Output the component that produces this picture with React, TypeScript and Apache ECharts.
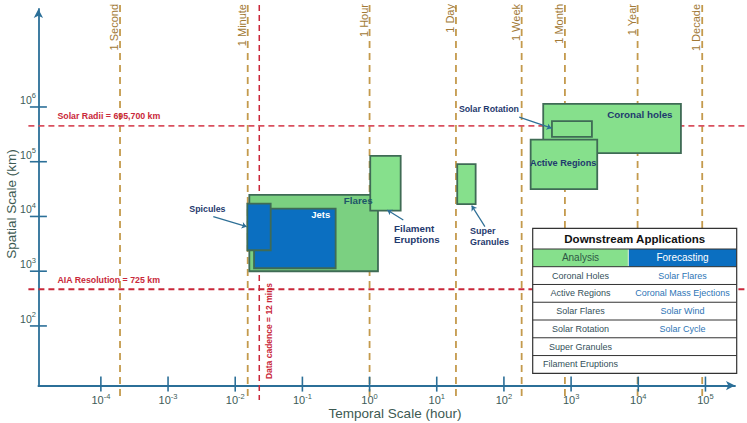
import React, { useEffect, useRef } from 'react';
import * as echarts from 'echarts';

// ---------- axis extents (log10 units: hours on x, km on y) ----------
const X_MIN = -4.93;
const X_MAX = 5.44;
const Y_MIN = 0.91;
const Y_MAX = 7.79;

const xTickExponents = [-4, -3, -2, -1, 0, 1, 2, 3, 4, 5];
const yTickExponents = [2, 3, 4, 5, 6];

// ---------- time reference lines (log10 hours, as drawn) ----------
const timeMarkerLabels = ['1 Second', '1 Minute', '1 Hour', '1 Day', '1 Week', '1 Month', '1 Year', '1 Decade'];
const timeMarkerExponents = [-3.715, -1.814, 0.0, 1.286, 2.264, 2.908, 3.99, 4.952];

const cadenceLabel = 'Data cadence = 12 mins';
const cadenceExponent = -1.642;

// ---------- spatial reference lines (log10 km, as drawn) ----------
const scaleLineLabels = ['Solar Radii = 695,700 km', 'AIA Resolution = 725 km'];
const scaleLineExponents = [5.655, 2.67];

// ---------- phenomena boxes (log10 hours / log10 km) ----------
const phenomena = ['Flares', 'Jets', 'Spicules', 'Filament Eruptions', 'Super Granules', 'Coronal holes', 'Solar Rotation', 'Active Regions'];
const timeStartExp = [-1.79, -1.72, -1.82, 0.01, 1.305, 2.585, 2.715, 2.398];
const timeEndExp = [0.125, -0.505, -1.472, 0.463, 1.579, 4.635, 3.31, 3.389];
const sizeLowExp = [2.999, 3.054, 3.383, 4.107, 4.224, 5.156, 5.454, 4.498];
const sizeHighExp = [4.394, 4.143, 4.235, 5.107, 4.955, 6.057, 5.741, 5.404];

// ---------- annotation labels (anchor in data units) ----------
const annotationTexts = ['Flares', 'Jets', 'Coronal holes', 'Active Regions', 'Spicules', 'Filament\nEruptions', 'Super\nGranules', 'Solar Rotation'];
const annotationTimeExp = [-0.168, -0.728, 4.024, 2.883, -2.414, 0.363, 1.494, 1.777];
const annotationSizeExp = [4.284, 4.034, 5.855, 4.973, 4.138, 3.68, 3.633, 5.96];

// ---------- annotation arrows ----------
const arrowFromTime = [-2.326, 0.502, 1.717, 2.228];
const arrowFromSize = [3.997, 3.937, 3.814, 5.814];
const arrowToTime = [-1.829, 0.263, 1.52, 2.71];
const arrowToSize = [3.814, 4.12, 4.198, 5.613];

// ---------- table ----------
const tableTitle = 'Downstream Applications';
const tableHeaders = ['Analysis', 'Forecasting'];
const analysisItems = ['Coronal Holes', 'Active Regions', 'Solar Flares', 'Solar Rotation', 'Super Granules', 'Filament Eruptions'];
const forecastingItems = ['Solar Flares', 'Coronal Mass Ejections', 'Solar Wind', 'Solar Cycle'];

const xAxisTitle = 'Temporal Scale (hour)';
const yAxisTitle = 'Spatial Scale (km)';

// ---------- styles ----------
const FONT = '"Liberation Sans", Arial, sans-serif';
const AXIS_COLOR = '#2b6f98';
const TICK_TEXT = '#3d5b58';
const TAN = '#c49a4c';
const TAN_TEXT = '#a27935';
const RED = '#c9283a';
const NAVY = '#1f3a6e';
const GREEN = '#86e08c';
const GREEN_DARK = '#7bd081';
const BLUE = '#0b6fc1';
const BORDER = '#3f6b55';

const boxFill = (name: string) => {
  if (name === 'Flares') return GREEN_DARK;
  if (name === 'Jets' || name === 'Spicules') return BLUE;
  return GREEN;
};

const labelStyle = (text: string) => {
  if (text === 'Flares') return { fill: '#1d5668', fontSize: 9.8, align: 'center' };
  if (text === 'Jets') return { fill: '#ffffff', fontSize: 9.5, align: 'center' };
  if (text === 'Coronal holes') return { fill: NAVY, fontSize: 9.8, align: 'center' };
  if (text === 'Active Regions') return { fill: NAVY, fontSize: 9.2, align: 'center' };
  if (text.startsWith('Filament')) return { fill: NAVY, fontSize: 9.8, align: 'left' };
  if (text.startsWith('Super')) return { fill: NAVY, fontSize: 9, align: 'left' };
  return { fill: NAVY, fontSize: 8.8, align: 'center' };
};

function buildTable() {
  const x = 532.7, y = 228.3, w = 204, titleH = 20.7, headH = 17.7, rowH = 17.77, split = 95.6;
  const bodyTop = y + titleH + headH;
  const rows = Math.max(analysisItems.length, forecastingItems.length);
  const h = titleH + headH + rowH * rows;
  const els: any[] = [];
  els.push({ type: 'rect', shape: { x, y, width: w, height: h }, style: { fill: '#ffffff', stroke: 'none' }, z: 100 });
  els.push({ type: 'rect', shape: { x, y: y + titleH, width: split, height: headH }, style: { fill: GREEN }, z: 101 });
  els.push({ type: 'rect', shape: { x: x + split, y: y + titleH, width: w - split, height: headH }, style: { fill: BLUE }, z: 101 });
  els.push({ type: 'line', shape: { x1: x + split, y1: y + titleH, x2: x + split, y2: bodyTop }, style: { stroke: '#d8f0da', lineWidth: 1 }, z: 102 });
  els.push({ type: 'text', x: x + w / 2, y: y + titleH / 2 + 0.5, style: { text: tableTitle, align: 'center', verticalAlign: 'middle', fontSize: 11.5, fontWeight: 'bold', fill: '#111111', fontFamily: FONT }, z: 103 });
  els.push({ type: 'text', x: x + split / 2, y: y + titleH + headH / 2, style: { text: tableHeaders[0], align: 'center', verticalAlign: 'middle', fontSize: 10, fill: '#2e5745', fontFamily: FONT }, z: 103 });
  els.push({ type: 'text', x: x + split + (w - split) / 2, y: y + titleH + headH / 2, style: { text: tableHeaders[1], align: 'center', verticalAlign: 'middle', fontSize: 10, fill: '#ffffff', fontFamily: FONT }, z: 103 });
  const lineYs = [y + titleH, bodyTop];
  for (let i = 1; i < rows; i++) lineYs.push(bodyTop + rowH * i);
  lineYs.forEach((ly) => {
    els.push({ type: 'line', shape: { x1: x, y1: ly, x2: x + w, y2: ly }, style: { stroke: '#333333', lineWidth: 1 }, z: 102 });
  });
  for (let i = 0; i < rows; i++) {
    const cy = bodyTop + rowH * (i + 0.5);
    if (analysisItems[i]) els.push({ type: 'text', x: x + split / 2, y: cy, style: { text: analysisItems[i], align: 'center', verticalAlign: 'middle', fontSize: 9, fill: '#34505a', fontFamily: FONT }, z: 103 });
    if (forecastingItems[i]) els.push({ type: 'text', x: x + split + (w - split) / 2, y: cy, style: { text: forecastingItems[i], align: 'center', verticalAlign: 'middle', fontSize: 9, fill: '#2e75b6', fontFamily: FONT }, z: 103 });
  }
  els.push({ type: 'rect', shape: { x, y, width: w, height: h }, style: { fill: 'none', stroke: '#333333', lineWidth: 1.2 }, z: 104 });
  return els;
}

function buildOption(): any {
  return {
    animation: false,
    backgroundColor: '#ffffff',
    grid: { left: 38.4, top: 9, right: 12, bottom: 37.4, containLabel: false, outerBoundsMode: 'none' },
    xAxis: {
      type: 'value', min: X_MIN, max: X_MAX,
      axisLine: { show: true, onZero: false, symbol: ['none', 'arrow'], symbolSize: [7, 9], lineStyle: { color: AXIS_COLOR, width: 1.8 } },
      axisTick: { show: false }, axisLabel: { show: false }, splitLine: { show: false },
    },
    yAxis: {
      type: 'value', min: Y_MIN, max: Y_MAX,
      axisLine: { show: true, onZero: false, symbol: ['none', 'arrow'], symbolSize: [7, 9], lineStyle: { color: AXIS_COLOR, width: 1.8 } },
      axisTick: { show: false }, axisLabel: { show: false }, splitLine: { show: false },
    },
    graphic: [
      { type: 'text', x: 395, y: 413, style: { text: xAxisTitle, align: 'center', verticalAlign: 'middle', fontSize: 13.5, fill: '#3d5a52', fontFamily: FONT } },
      { type: 'text', x: 11, y: 204, rotation: Math.PI / 2, style: { text: yAxisTitle, align: 'center', verticalAlign: 'middle', fontSize: 13.5, fill: '#3d5a52', fontFamily: FONT } },
      ...buildTable(),
    ],
    series: [
      // time reference lines
      {
        type: 'custom', z: 1, clip: false, silent: true,
        encode: { x: 0, y: 1 },
        data: timeMarkerExponents.map((e) => [e, Y_MAX]),
        renderItem: (params: any, api: any) => {
          const top = api.coord([api.value(0), Y_MAX]);
          const bot = api.coord([api.value(0), Y_MIN]);
          const x = top[0];
          return {
            type: 'group',
            children: [
              { type: 'line', shape: { x1: x, y1: top[1] - 4, x2: x, y2: bot[1] + 14.5 }, style: { stroke: TAN, lineWidth: 1.8, lineDash: [7, 5] } },
              { type: 'text', x: x - 0.5, y: top[1] - 5, rotation: Math.PI / 2, style: { text: timeMarkerLabels[params.dataIndex], align: 'right', verticalAlign: 'bottom', fill: TAN_TEXT, fontSize: 11, fontFamily: FONT } },
            ],
          };
        },
      },
      // data cadence line
      {
        type: 'custom', z: 2, clip: false, silent: true,
        encode: { x: 0, y: 1 },
        data: [[cadenceExponent, Y_MAX]],
        renderItem: (params: any, api: any) => {
          const top = api.coord([api.value(0), Y_MAX]);
          const bot = api.coord([api.value(0), Y_MIN]);
          const x = top[0];
          return {
            type: 'group',
            children: [
              { type: 'line', shape: { x1: x, y1: top[1] - 4, x2: x, y2: bot[1] + 14.5 }, style: { stroke: RED, lineWidth: 1.5, lineDash: [6, 4] } },
              { type: 'text', x: x + 5.5, y: bot[1] - 6.5, rotation: Math.PI / 2, style: { text: cadenceLabel, align: 'left', verticalAlign: 'top', fill: RED, fontSize: 8.5, fontWeight: 'bold', fontFamily: FONT } },
            ],
          };
        },
      },
      // spatial reference lines
      {
        type: 'custom', z: 2, clip: false, silent: true,
        encode: { x: 0, y: 1 },
        data: scaleLineExponents.map((e) => [X_MIN, e]),
        renderItem: (params: any, api: any) => {
          const p = api.coord([X_MIN, api.value(1)]);
          const i = params.dataIndex;
          return {
            type: 'group',
            children: [
              { type: 'line', shape: { x1: p[0] - 10, y1: p[1], x2: api.getWidth(), y2: p[1] }, style: { stroke: i === 0 ? '#d9505f' : RED, lineWidth: 1.8, lineDash: [6, 4] } },
              { type: 'text', x: p[0] + 19, y: p[1] - 9.5, style: { text: scaleLineLabels[i], align: 'left', verticalAlign: 'middle', fill: RED, fontSize: 8.8, fontWeight: 'bold', fontFamily: FONT } },
            ],
          };
        },
      },
      // phenomena boxes
      {
        type: 'custom', z: 3, clip: false, silent: true,
        encode: { x: [0, 1], y: [2, 3] },
        data: phenomena.map((_, i) => [timeStartExp[i], timeEndExp[i], sizeLowExp[i], sizeHighExp[i]]),
        renderItem: (params: any, api: any) => {
          const tl = api.coord([api.value(0), api.value(3)]);
          const br = api.coord([api.value(1), api.value(2)]);
          const name = phenomena[params.dataIndex];
          return {
            type: 'rect',
            shape: { x: tl[0], y: tl[1], width: br[0] - tl[0], height: br[1] - tl[1] },
            style: { fill: boxFill(name), stroke: BORDER, lineWidth: 1.8 },
          };
        },
      },
      // annotation arrows
      {
        type: 'lines', coordinateSystem: 'cartesian2d', z: 4, silent: true,
        symbol: ['none', 'arrow'], symbolSize: 5,
        lineStyle: { color: '#2e6f96', width: 1.2, opacity: 1, curveness: 0 },
        data: arrowFromTime.map((_, i) => ({ coords: [[arrowFromTime[i], arrowFromSize[i]], [arrowToTime[i], arrowToSize[i]]] })),
      },
      // annotation labels
      {
        type: 'custom', z: 5, clip: false, silent: true,
        encode: { x: 0, y: 1 },
        data: annotationTexts.map((_, i) => [annotationTimeExp[i], annotationSizeExp[i]]),
        renderItem: (params: any, api: any) => {
          const p = api.coord([api.value(0), api.value(1)]);
          const text = annotationTexts[params.dataIndex];
          const st = labelStyle(text);
          return {
            type: 'text', x: p[0], y: p[1],
            style: { text, align: st.align, verticalAlign: 'middle', fill: st.fill, fontSize: st.fontSize, fontWeight: 'bold', fontFamily: FONT, lineHeight: 11.8 },
          };
        },
      },
      // x ticks + labels
      {
        type: 'custom', z: 6, clip: false, silent: true,
        encode: { x: 0, y: 1 },
        data: xTickExponents.map((e) => [e, Y_MIN]),
        renderItem: (params: any, api: any) => {
          const v = api.value(0);
          const p = api.coord([v, Y_MIN]);
          return {
            type: 'group',
            children: [
              { type: 'line', shape: { x1: p[0], y1: p[1] - 9, x2: p[0], y2: p[1] + 6 }, style: { stroke: AXIS_COLOR, lineWidth: 1.6 } },
              {
                type: 'text', x: p[0], y: p[1] + 14.7,
                style: {
                  text: `{b|10}{s|${v}}`, align: 'center', verticalAlign: 'middle',
                  rich: {
                    b: { fontSize: 11, fill: TICK_TEXT, fontFamily: FONT },
                    s: { fontSize: 7.5, fill: TICK_TEXT, fontFamily: FONT, padding: [0, 0, 8, 0] },
                  },
                },
              },
            ],
          };
        },
      },
      // y ticks + labels
      {
        type: 'custom', z: 6, clip: false, silent: true,
        encode: { x: 0, y: 1 },
        data: yTickExponents.map((e) => [X_MIN, e]),
        renderItem: (params: any, api: any) => {
          const v = api.value(1);
          const p = api.coord([X_MIN, v]);
          return {
            type: 'group',
            children: [
              { type: 'line', shape: { x1: p[0] - 8.5, y1: p[1], x2: p[0] + 8.5, y2: p[1] }, style: { stroke: AXIS_COLOR, lineWidth: 1.6 } },
              {
                type: 'text', x: p[0] - 2.5, y: p[1] - 7,
                style: {
                  text: `{b|10}{s|${v}}`, align: 'right', verticalAlign: 'middle',
                  rich: {
                    b: { fontSize: 10.5, fill: TICK_TEXT, fontFamily: FONT },
                    s: { fontSize: 7.5, fill: TICK_TEXT, fontFamily: FONT, padding: [0, 0, 8, 0] },
                  },
                },
              },
            ],
          };
        },
      },
    ],
  };
}

export default function App() {
  const ref = useRef<HTMLDivElement>(null);
  useEffect(() => {
    if (!ref.current) return;
    const chart = echarts.init(ref.current, null, { renderer: 'svg' });
    chart.setOption(buildOption());
    return () => chart.dispose();
  }, []);
  return (
    <div
      ref={ref}
      style={{ position: 'absolute', left: 0, top: 0, width: 747, height: 423, background: '#ffffff' }}
    />
  );
}
